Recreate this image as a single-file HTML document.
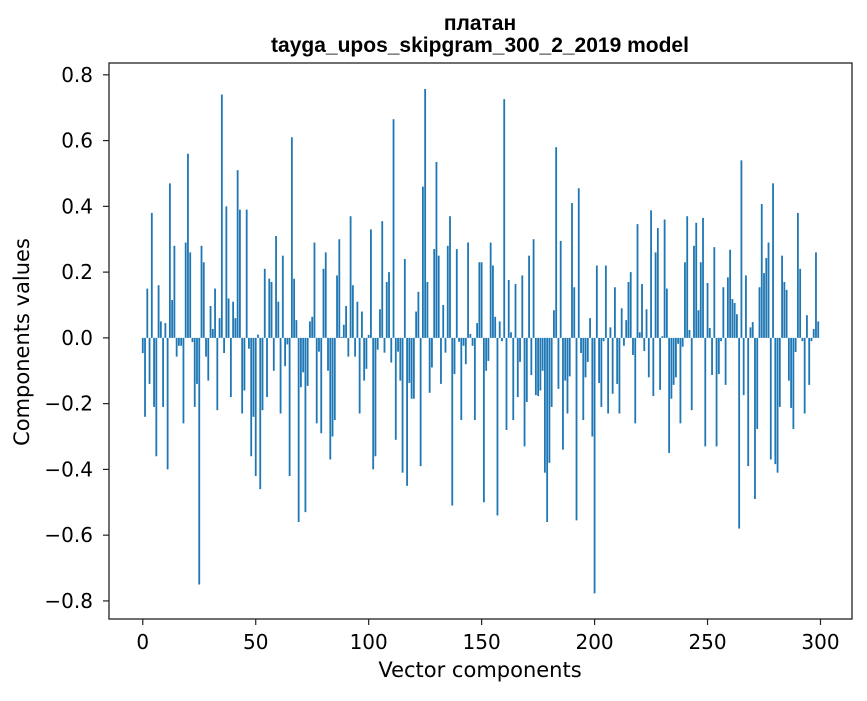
<!DOCTYPE html>
<html><head><meta charset="utf-8"><style>
body{margin:0;background:#fff;}
svg text{font-family:"DejaVu Sans","Liberation Sans",sans-serif;fill:#000;}
svg text.ttl{font-family:"Liberation Sans","DejaVu Sans",sans-serif;}
</style></head><body>
<svg id="chart" width="867" height="696" xmlns="http://www.w3.org/2000/svg">
<rect width="867" height="696" fill="#fff"/>
<text class="ttl" x="480" y="30" text-anchor="middle" font-size="21" font-weight="bold">платан</text>
<text class="ttl" x="480" y="52" text-anchor="middle" font-size="21" font-weight="bold">tayga_upos_skipgram_300_2_2019 model</text>
<g id="bars"></g>
<g id="axes"></g>
<text x="480" y="677" text-anchor="middle" font-size="21">Vector components</text>
<text transform="translate(29,342) rotate(-90)" text-anchor="middle" font-size="21">Components values</text>
</svg>
<script>
const values = [
-0.046,-0.24,0.15,-0.14,0.38,-0.21,-0.36,0.16,0.05,-0.21,
0.045,-0.40,0.47,0.115,0.28,-0.057,-0.024,-0.024,-0.26,0.29,
0.56,0.26,-0.013,-0.21,-0.14,-0.75,0.28,0.23,-0.057,-0.13,
0.097,0.027,0.15,-0.22,0.06,0.74,-0.046,0.40,0.12,-0.18,
0.11,0.06,0.51,0.39,-0.23,-0.16,0.39,-0.033,-0.36,-0.24,
-0.42,0.01,-0.46,-0.22,0.21,-0.18,0.18,0.17,-0.10,0.31,
0.11,-0.23,0.25,-0.086,-0.02,-0.42,0.61,0.18,0.054,-0.56,
-0.15,-0.105,-0.53,-0.146,0.05,0.064,0.29,-0.26,-0.042,-0.29,
0.21,0.26,-0.10,-0.37,-0.30,-0.25,0.19,0.30,0.003,0.04,
0.097,-0.057,0.37,0.16,-0.057,0.11,-0.23,0.08,-0.13,-0.094,
0.009,0.33,-0.40,-0.36,-0.036,0.087,0.355,-0.045,0.17,0.20,
-0.075,0.665,-0.31,-0.042,-0.13,-0.41,0.24,-0.45,-0.137,-0.185,
-0.185,0.08,0.14,-0.39,0.46,0.757,0.17,-0.167,-0.09,0.27,
0.535,0.25,-0.14,0.10,-0.045,0.28,0.37,-0.51,-0.11,0.27,
-0.012,-0.25,-0.024,-0.08,0.29,0.012,-0.024,-0.25,0.045,0.23,
0.23,-0.50,-0.10,-0.07,0.29,0.22,0.064,-0.54,0.05,-0.01,
0.726,-0.28,0.176,0.017,-0.25,0.164,-0.18,-0.073,0.19,-0.33,
-0.195,0.25,-0.113,0.30,-0.174,-0.177,-0.16,-0.10,-0.41,-0.56,
-0.38,-0.21,0.084,0.58,-0.155,0.295,-0.34,-0.13,-0.23,-0.117,
0.41,0.154,-0.555,0.455,-0.046,-0.25,-0.12,-0.073,0.06,-0.30,
-0.777,0.22,-0.137,-0.21,-0.01,0.22,-0.23,0.032,-0.17,0.154,
-0.14,-0.23,0.09,-0.024,0.054,0.17,0.20,-0.052,-0.26,0.346,
0.017,0.164,-0.04,0.087,-0.12,0.388,-0.177,0.26,0.334,-0.158,
0.005,0.36,0.15,-0.35,-0.185,-0.143,-0.12,-0.018,-0.26,-0.027,
0.23,0.37,0.024,-0.22,0.28,0.35,0.084,0.23,0.365,-0.33,
0.167,0.03,-0.113,0.276,-0.33,-0.11,-0.01,0.154,-0.143,0.184,
0.268,0.118,0.106,0.072,-0.58,0.54,-0.174,0.19,-0.39,0.032,
0.048,-0.49,-0.277,0.154,0.407,0.197,0.243,0.29,-0.37,0.47,
-0.384,-0.41,-0.21,0.25,0.17,0.146,-0.13,-0.213,-0.277,-0.043,
0.38,0.21,-0.01,-0.23,0.069,-0.143,-0.01,0.027,0.26,0.05
];
const xTicks = [0,50,100,150,200,250,300];
const yTicks = [-0.8,-0.6,-0.4,-0.2,0.0,0.2,0.4,0.6,0.8];
const yTickLabels = ["\u22120.8","\u22120.6","\u22120.4","\u22120.2","0.0","0.2","0.4","0.6","0.8"];

const L=109,R=852,T=63,B=619;
const xMin=-14.95,xMax=313.95,yMin=-0.855,yMax=0.836;
const xs=v=>L+(v-xMin)/(xMax-xMin)*(R-L);
const ys=v=>B-(v-yMin)/(yMax-yMin)*(B-T);
const NS="http://www.w3.org/2000/svg";
const bars=document.getElementById('bars');
const bw=xs(0.8)-xs(0);
values.forEach((v,i)=>{
  const r=document.createElementNS(NS,'rect');
  const y0=ys(0),y1=ys(v);
  r.setAttribute('x',xs(i)-bw/2);
  r.setAttribute('y',Math.min(y0,y1));
  r.setAttribute('width',bw);
  r.setAttribute('height',Math.abs(y1-y0));
  r.setAttribute('fill','#1f77b4');
  
  
  bars.appendChild(r);
});
const ax=document.getElementById('axes');
const frame=document.createElementNS(NS,'rect');
frame.setAttribute('x',L);frame.setAttribute('y',T);
frame.setAttribute('width',R-L);frame.setAttribute('height',B-T);
frame.setAttribute('fill','none');frame.setAttribute('stroke','#222');frame.setAttribute('stroke-width','1.3');


ax.appendChild(frame);
xTicks.forEach(t=>{
  const x=xs(t);
  const l=document.createElementNS(NS,'line');
  l.setAttribute('x1',x);l.setAttribute('x2',x);l.setAttribute('y1',B);l.setAttribute('y2',B+6);
  l.setAttribute('stroke','#222');l.setAttribute('stroke-width','1.2');
  
  
  ax.appendChild(l);
  const tx=document.createElementNS(NS,'text');
  tx.setAttribute('x',x);tx.setAttribute('y',B+30);tx.setAttribute('text-anchor','middle');tx.setAttribute('font-size','20');
  tx.textContent=t;
  
  
  ax.appendChild(tx);
});
yTicks.forEach((t,i)=>{
  const y=ys(t);
  const l=document.createElementNS(NS,'line');
  l.setAttribute('x1',L-6);l.setAttribute('x2',L);l.setAttribute('y1',y);l.setAttribute('y2',y);
  l.setAttribute('stroke','#222');l.setAttribute('stroke-width','1.2');
  
  
  ax.appendChild(l);
  const tx=document.createElementNS(NS,'text');
  tx.setAttribute('x',L-16);tx.setAttribute('y',y+7);tx.setAttribute('text-anchor','end');tx.setAttribute('font-size','20');
  tx.textContent=yTickLabels[i];
  
  
  ax.appendChild(tx);
});
</script>
</body></html>
